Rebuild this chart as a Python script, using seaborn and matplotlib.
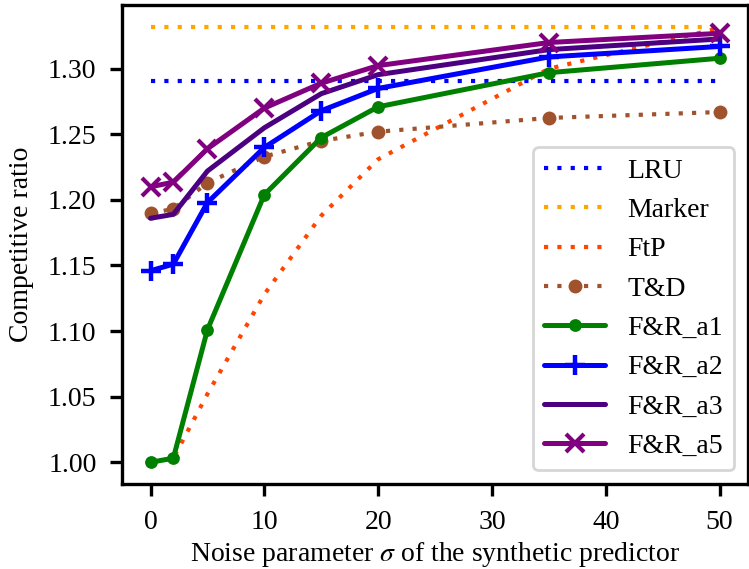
import matplotlib
matplotlib.use("Agg")
import matplotlib.pyplot as plt
import seaborn as sns
import pandas as pd
from matplotlib.ticker import FormatStrFormatter

sigma = [0, 2, 5, 10, 15, 20, 35, 50]
lru = [1.291, 1.291, 1.291, 1.291, 1.291, 1.291, 1.291, 1.291]
marker_alg = [1.332, 1.332, 1.332, 1.332, 1.332, 1.332, 1.332, 1.332]
ftp = [1.000, 1.003, 1.052, 1.128, 1.188, 1.231, 1.300, 1.331]
td = [1.190, 1.193, 1.213, 1.233, 1.245, 1.252, 1.2625, 1.267]
fr_a1 = [1.000, 1.003, 1.101, 1.204, 1.2475, 1.271, 1.297, 1.308]
fr_a2 = [1.146, 1.151, 1.198, 1.240, 1.268, 1.285, 1.309, 1.317]
fr_a3 = [1.186, 1.189, 1.222, 1.255, 1.281, 1.2955, 1.3146, 1.3227]
fr_a5 = [1.210, 1.2135, 1.239, 1.270, 1.289, 1.3024, 1.320, 1.327]

labels = ["LRU", "Marker", "FtP", "T&D", "F&R_a1", "F&R_a2", "F&R_a3", "F&R_a5"]
series = [lru, marker_alg, ftp, td, fr_a1, fr_a2, fr_a3, fr_a5]

sns.set_style("ticks")
plt.rcParams["font.family"] = ["Liberation Serif", "DejaVu Serif"]
plt.rcParams["mathtext.fontset"] = "stix"
plt.rcParams["font.size"] = 10
plt.rcParams["text.color"] = "black"
plt.rcParams["axes.labelcolor"] = "black"

fig = plt.figure(figsize=(3.745, 2.845), dpi=200)
ax = fig.add_axes([0.163, 0.1494, 0.8357, 0.8418])

dot = (0, (1, 2.2))
styles = [
    dict(color="blue", linestyle=dot, lw=1.5),
    dict(color="orange", linestyle=dot, lw=1.5),
    dict(color="orangered", linestyle=dot, lw=1.5),
    dict(color="sienna", linestyle=dot, lw=1.5, marker="o", markersize=5,
         markeredgewidth=0, markeredgecolor="sienna"),
    dict(color="green", linestyle="-", lw=1.8, marker="o", markersize=4.6,
         markeredgewidth=0, markeredgecolor="green"),
    dict(color="blue", linestyle="-", lw=1.8, marker="+", markersize=7.5,
         markeredgewidth=1.6, markeredgecolor="blue"),
    dict(color="indigo", linestyle="-", lw=1.8),
    dict(color="purple", linestyle="-", lw=1.8, marker="x", markersize=6.5,
         markeredgewidth=1.5, markeredgecolor="purple"),
]

for lab, vals, st in zip(labels, series, styles):
    df = pd.DataFrame({"sigma": sigma, "ratio": vals})
    sns.lineplot(data=df, x="sigma", y="ratio", ax=ax, label=lab, **st)

ax.set_xticks([0, 10, 20, 30, 40, 50])
ax.set_yticks([1.00, 1.05, 1.10, 1.15, 1.20, 1.25, 1.30])
ax.yaxis.set_major_formatter(FormatStrFormatter("%.2f"))
ax.set_xlabel(r"Noise parameter $\sigma$ of the synthetic predictor", labelpad=2)
ax.set_ylabel("Competitive ratio", labelpad=5)
ax.margins(x=0.05, y=0.05)
for sp in ax.spines.values():
    sp.set_linewidth(1.2)
    sp.set_color("black")
ax.tick_params(direction="out", length=4.2, width=1.2, pad=5, colors="black")

ax.legend(loc="lower right", handlelength=2.2, fontsize=10)

fig.savefig("out.png", dpi=200)
